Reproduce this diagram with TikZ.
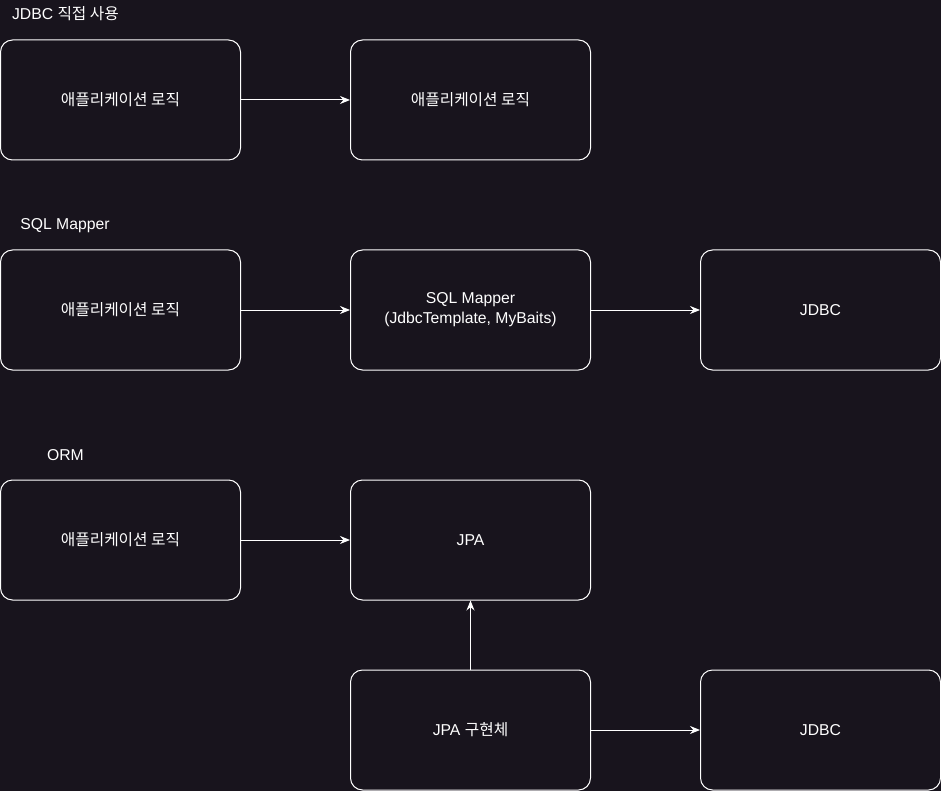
\documentclass[tikz,border=0pt]{standalone}
\usepackage{fontspec}
\setmainfont{Liberation Sans}
\newfontfamily\kr{Noto Sans CJK KR}
\usetikzlibrary{arrows.meta}
\definecolor{bgdark}{HTML}{18141D}
\begin{document}
\begin{tikzpicture}[x=0.75pt,y=-0.75pt,
  box/.style={draw=white,line width=0.75pt,rounded corners=9pt,minimum width=180pt,minimum height=90pt,text=white,align=center,font=\fontsize{11.8}{15}\selectfont},
  title/.style={text=white,font=\fontsize{11.8}{15}\selectfont},
  link/.style={draw=white,line width=0.75pt,-{Stealth[length=7.5pt,width=6pt,inset=2.5pt]}}]
  \fill[bgdark] (0,0) rectangle (941,791);
  % JDBC
  \node[title] (tJdbc) at (65.5,14) {JDBC {\kr 직접 사용}};
  \node[box] (appA) at (120.5,100) {\kr 애플리케이션 로직};
  \node[box] (appB) at (470.5,100) {\kr 애플리케이션 로직};
  \draw[link] (appA) -- (appB);
  % SQL Mapper
  \node[title] (tMapper) at (65,226) {SQL Mapper};
  \node[box] (appC) at (120.5,310) {\kr 애플리케이션 로직};
  \node[box] (mapper) at (470.5,310) {SQL Mapper\\(JdbcTemplate, MyBaits)};
  \node[box] (jdbcA) at (820.5,310) {JDBC};
  \draw[link] (appC) -- (mapper);
  \draw[link] (mapper) -- (jdbcA);
  % ORM
  \node[title] (tOrm) at (65.5,455) {ORM};
  \node[box] (appD) at (120.5,540) {\kr 애플리케이션 로직};
  \node[box] (jpa) at (470.5,540) {JPA};
  \node[box] (impl) at (470.5,730) {JPA {\kr 구현체}};
  \node[box] (jdbcB) at (820.5,730) {JDBC};
  \draw[link] (appD) -- (jpa);
  \draw[link] (impl) -- (jpa);
  \draw[link] (impl) -- (jdbcB);
  \useasboundingbox (0,0) rectangle (941,791);
\end{tikzpicture}
\end{document}
